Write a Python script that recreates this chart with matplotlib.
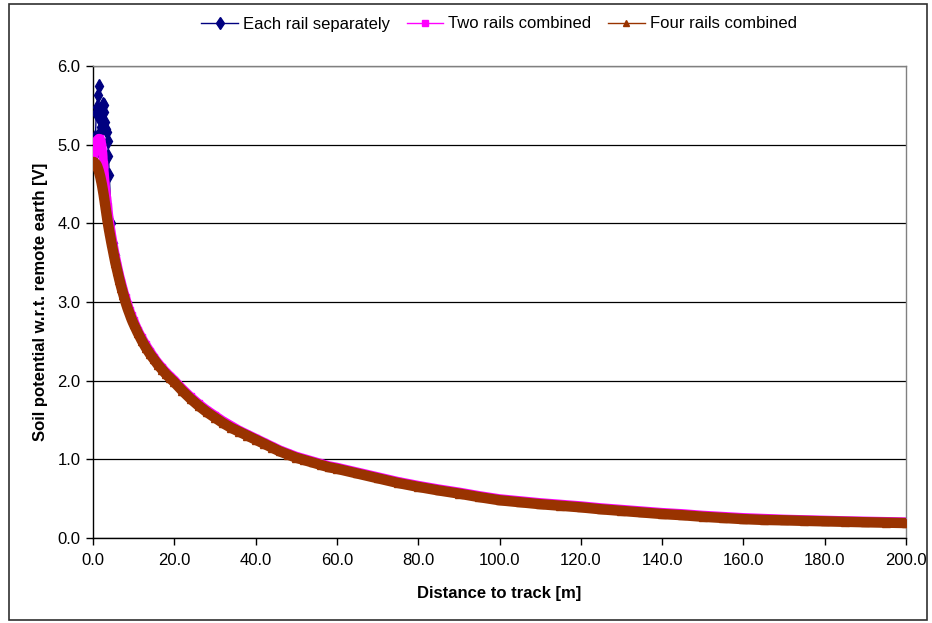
import matplotlib
matplotlib.use("Agg")
from matplotlib import pyplot as plt
from matplotlib.patches import Rectangle

# distance to track [m]
distance = [
    0.0, 0.2, 0.4, 0.6, 0.8, 1.0, 1.2, 1.4, 1.6, 1.8, 2.0, 2.2, 2.4, 2.6, 2.8, 3.0, 3.2, 3.4, 3.6, 3.8, 4.0,
    4.5, 5.0, 5.5, 6.0, 6.5, 7.0, 7.5, 8.0, 8.5, 9.0, 9.5, 10.0,
    11, 12, 13, 14, 15, 16, 17, 18, 19, 20,
    22, 24, 26, 28, 30, 32, 34, 36, 38, 40, 42, 44, 46, 48, 50, 52, 54, 56, 58, 60,
    65, 70, 75, 80, 85, 90, 95, 100, 105, 110, 115, 120, 125, 130, 135, 140, 145, 150,
    155, 160, 165, 170, 175, 180, 185, 190, 195, 200,
]

# soil potential [V]
each_rail = [
    4.80, 4.86, 4.95, 5.10, 5.40, 5.48, 5.63, 5.74, 5.31, 5.16, 5.23, 5.44, 5.52, 5.50, 5.42, 5.29, 5.20, 5.16, 5.05, 4.85, 4.62,
    4.00, 3.75, 3.60, 3.48, 3.36, 3.26, 3.16, 3.07, 2.99, 2.91, 2.84, 2.77,
    2.64, 2.54, 2.45, 2.37, 2.29, 2.22, 2.16, 2.10, 2.05, 2.00,
    1.89, 1.79, 1.70, 1.62, 1.55, 1.48, 1.42, 1.36, 1.31, 1.26, 1.21, 1.16, 1.11, 1.07, 1.03, 1.00, 0.97, 0.94, 0.91, 0.89,
    0.83, 0.77, 0.71, 0.66, 0.615, 0.575, 0.53, 0.49, 0.465, 0.44, 0.42, 0.40, 0.375, 0.355, 0.335, 0.315, 0.30, 0.28,
    0.265, 0.25, 0.24, 0.23, 0.223, 0.217, 0.21, 0.205, 0.20, 0.19,
]
two_rails = [
    4.84, 4.88, 4.93, 4.98, 5.03, 5.06, 5.07, 5.08, 5.08, 5.07, 5.05, 4.98, 4.88, 4.76, 4.62, 4.50, 4.40, 4.31, 4.22, 4.13, 4.05,
    3.88, 3.73, 3.59, 3.47, 3.35, 3.25, 3.15, 3.06, 2.98, 2.90, 2.83, 2.77,
    2.65, 2.55, 2.46, 2.38, 2.30, 2.23, 2.17, 2.11, 2.06, 2.01,
    1.90, 1.80, 1.71, 1.63, 1.56, 1.49, 1.43, 1.37, 1.32, 1.27, 1.22, 1.17, 1.12, 1.08, 1.04, 1.01, 0.98, 0.95, 0.92, 0.90,
    0.84, 0.78, 0.72, 0.67, 0.625, 0.585, 0.54, 0.50, 0.475, 0.45, 0.43, 0.41, 0.385, 0.365, 0.345, 0.325, 0.31, 0.29,
    0.275, 0.26, 0.25, 0.24, 0.233, 0.227, 0.22, 0.215, 0.21, 0.205,
]
four_rails = [
    4.78, 4.78, 4.77, 4.76, 4.75, 4.73, 4.70, 4.67, 4.63, 4.59, 4.54, 4.49, 4.43, 4.37, 4.30, 4.23, 4.16, 4.09, 4.02, 3.96, 3.90,
    3.76, 3.63, 3.50, 3.39, 3.28, 3.18, 3.09, 3.00, 2.92, 2.85, 2.78, 2.72,
    2.61, 2.51, 2.42, 2.34, 2.27, 2.20, 2.14, 2.08, 2.03, 1.98,
    1.87, 1.77, 1.68, 1.60, 1.53, 1.46, 1.40, 1.35, 1.30, 1.25, 1.20, 1.15, 1.10, 1.06, 1.02, 0.99, 0.96, 0.93, 0.90, 0.88,
    0.82, 0.76, 0.70, 0.65, 0.605, 0.565, 0.52, 0.48, 0.455, 0.43, 0.41, 0.39, 0.365, 0.345, 0.325, 0.305, 0.29, 0.27,
    0.255, 0.24, 0.23, 0.225, 0.218, 0.212, 0.206, 0.20, 0.195, 0.19,
]

x_ticks = [0, 20, 40, 60, 80, 100, 120, 140, 160, 180, 200]
y_ticks = [0, 1, 2, 3, 4, 5, 6]

navy = "#000080"
pink = "#FF00FF"
brown = "#993300"

plt.rcParams["font.family"] = ["Liberation Sans", "DejaVu Sans"]
fs = 12

fig = plt.figure(figsize=(9.32, 6.23), dpi=100)
ax = fig.add_axes([93 / 932, 1 - 538 / 623, (906 - 93) / 932, (538 - 66) / 623])

# each rail separately (its markers are only visible in the spike, the rest is hidden under the others)
ax.plot(distance, each_rail, color=navy, lw=1, marker="d", ms=7.5, mec=navy, mfc=navy,
        markevery=slice(0, 24), label="Each rail separately", zorder=3)
# two rails combined (thick band under the markers, as in the dense original)
ax.plot(distance, two_rails, color=pink, lw=6.5, solid_capstyle="round", zorder=4)
ax.plot(distance, two_rails, color=pink, lw=1, marker="s", ms=5, mec=pink, mfc=pink,
        label="Two rails combined", zorder=4)
# four rails combined
ax.plot(distance, four_rails, color=brown, lw=7.5, solid_capstyle="round", zorder=5)
ax.plot(distance, four_rails, color=brown, lw=1, marker="^", ms=6, mec=brown, mfc=brown,
        label="Four rails combined", zorder=5)

ax.set_xlim(0, 200)
ax.set_ylim(0, 6)
ax.set_xticks(x_ticks)
ax.set_yticks(y_ticks)
ax.set_xticklabels([f"{v:.1f}" for v in x_ticks])
ax.set_yticklabels([f"{v:.1f}" for v in y_ticks])
ax.tick_params(axis="both", direction="out", length=5, width=1, labelsize=fs, color="black")
ax.tick_params(axis="x", pad=6)
ax.tick_params(axis="y", pad=4)

ax.yaxis.grid(True, color="black", lw=0.9)
ax.set_axisbelow(True)
for side in ("top", "right"):
    ax.spines[side].set_color("#808080")
    ax.spines[side].set_linewidth(1)
for side in ("left", "bottom"):
    ax.spines[side].set_color("black")
    ax.spines[side].set_linewidth(1)

ax.set_xlabel("Distance to track [m]", fontsize=fs, fontweight="bold", labelpad=13)
ax.set_ylabel("Soil potential w.r.t. remote earth [V]", fontsize=fs, fontweight="bold", labelpad=7)

fig.legend(loc="center", bbox_to_anchor=(499 / 932, 1 - 24 / 623), ncol=3, frameon=False,
           fontsize=fs, handlelength=2.2, columnspacing=1.0, handletextpad=0.3,
           markerscale=0.8)

# outer chart border
fig.patches.append(Rectangle((9 / 932, 3 / 623), 918 / 932, 616 / 623, transform=fig.transFigure,
                             fill=False, edgecolor="#303030", lw=1.2))

fig.savefig("out.png", dpi=100)
